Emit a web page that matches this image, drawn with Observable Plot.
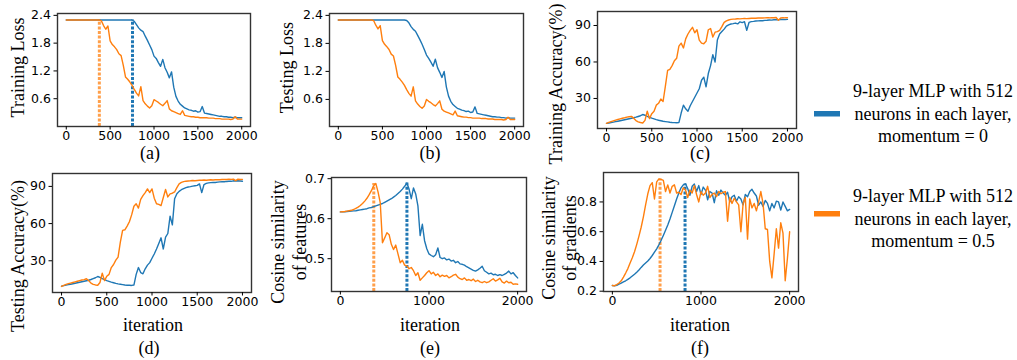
<!DOCTYPE html>
<html>
<head>
<meta charset="utf-8">
<script src="https://cdn.jsdelivr.net/npm/d3@7"></script>
<script src="https://cdn.jsdelivr.net/npm/@observablehq/plot@0.6"></script>
<style>
  html, body { margin: 0; padding: 0; background: #fff; }
  #fig { position: relative; width: 1017px; height: 360px; overflow: hidden; background: #fff; }
  .panel { position: absolute; }
  #overlay { position: absolute; left: 0; top: 0; pointer-events: none; }
</style>
</head>
<body>
<div id="fig"></div>
<script>
// ---------------- data ----------------
const iterations = d3.range(0, 2001, 25); // 0, 25, ..., 2000 (81 points)

const seriesNames = [
  ["9-layer MLP with 512", "neurons in each layer,", "momentum = 0"],
  ["9-layer MLP with 512", "neurons in each layer,", "momentum = 0.5"]
];

const xTicksFine = [0, 500, 1000, 1500, 2000];
const xTicksCoarse = [0, 1000, 2000];
const lossTicks = [0.6, 1.2, 1.8, 2.4];
const accTicks = [30, 60, 90];
const featTicks = [0.5, 0.6, 0.7];
const gradTicks = [0.2, 0.4, 0.6, 0.8];

// (a) training loss
const trainLossM0 = [
  2.30,2.30,2.30,2.30,2.30,2.30,2.30,2.30,2.30,2.30,
  2.30,2.30,2.30,2.30,2.30,2.30,2.30,2.30,2.30,2.30,
  2.30,2.30,2.30,2.30,2.30,2.30,2.30,2.30,2.30,2.30,
  2.30,
  2.27,2.20,2.13,2.08,2.05,1.95,1.86,1.76,1.66,1.52,
  1.47,1.38,1.30,1.45,1.27,1.17,1.05,1.18,0.85,0.65,
  0.55,0.48,0.44,0.40,0.38,0.36,0.35,0.33,0.34,0.31,
  0.32,0.43,0.29,0.28,0.27,0.26,0.25,0.24,0.23,0.22,
  0.22,0.21,0.21,0.20,0.20,0.19,0.20,0.19,0.19,0.19
];
const trainLossM05 = [
  2.30,2.30,2.30,2.30,2.30,2.30,2.30,2.30,2.30,2.30,
  2.30,2.30,2.30,2.30,2.30,2.30,
  2.28,2.18,2.10,2.17,1.85,1.77,1.72,1.66,1.57,1.53,
  1.32,1.07,1.02,0.96,0.89,0.80,0.72,0.66,0.86,0.56,
  0.49,0.44,0.40,0.45,0.58,0.55,0.52,0.48,0.45,0.50,
  0.56,0.38,0.34,0.32,0.30,0.28,0.26,0.34,0.24,0.23,
  0.22,0.21,0.21,0.20,0.20,0.19,0.19,0.19,0.19,0.18,
  0.18,0.18,0.17,0.17,0.17,0.16,0.16,0.16,0.16,0.15,
  0.16,0.21,0.16,0.16,0.16
];

// (b) testing loss
const testLossM0 = [
  2.30,2.30,2.30,2.30,2.30,2.30,2.30,2.30,2.30,2.30,
  2.30,2.30,2.30,2.30,2.30,2.30,2.30,2.30,2.30,2.30,
  2.30,2.30,2.30,2.30,2.30,2.30,2.30,2.30,2.30,2.30,
  2.30,
  2.29,2.24,2.16,2.10,2.06,1.97,1.88,1.78,1.67,1.55,
  1.48,1.40,1.31,1.46,1.28,1.18,1.07,1.20,0.87,0.67,
  0.56,0.49,0.45,0.41,0.39,0.37,0.36,0.34,0.35,0.32,
  0.33,0.44,0.30,0.29,0.28,0.27,0.26,0.25,0.24,0.23,
  0.23,0.22,0.22,0.21,0.21,0.20,0.21,0.20,0.20,0.20
];
const testLossM05 = [
  2.30,2.30,2.30,2.30,2.30,2.30,2.30,2.30,2.30,2.30,
  2.30,2.30,2.30,2.30,2.30,2.30,
  2.29,2.19,2.11,2.18,1.86,1.78,1.73,1.67,1.57,1.53,
  1.33,1.08,1.03,0.97,0.90,0.81,0.73,0.67,0.87,0.57,
  0.50,0.45,0.41,0.46,0.60,0.56,0.53,0.49,0.46,0.51,
  0.57,0.39,0.35,0.33,0.31,0.29,0.27,0.35,0.25,0.24,
  0.23,0.22,0.22,0.21,0.21,0.20,0.20,0.20,0.20,0.19,
  0.19,0.19,0.18,0.18,0.18,0.17,0.17,0.17,0.17,0.16,
  0.17,0.22,0.17,0.17,0.17
];

// (c) training accuracy (%)
const trainAccM0 = [
  9.5,9.8,10.2,10.5,10.9,11.3,11.7,12.1,12.5,12.9,
  13.3,13.7,14.1,14.6,15.2,15.8,16.8,16.2,15.3,14.5,
  13.8,13.2,12.6,12.1,11.7,11.3,11.0,10.7,10.4,10.2,
  10.1,10.0,10.2,18.0,24.5,21.5,19.5,24.0,27.5,31.0,
  34.5,38.0,45.0,47.5,39.5,50.5,57.0,66.0,60.0,78.0,
  83.0,85.0,87.0,89.5,90.5,91.2,91.5,92.0,91.3,93.0,
  92.4,93.1,86.0,92.5,93.2,93.4,93.7,93.8,94.0,93.9,
  94.2,94.3,94.5,94.4,94.7,94.8,94.7,94.9,95.0,94.8,
  95.0
];
const trainAccM05 = [
  9.5,10.3,11.0,11.6,12.2,12.7,13.2,13.7,14.1,14.6,
  15.0,15.3,13.8,11.8,10.8,10.2,9.8,12.0,19.5,13.5,
  17.5,19.5,24.5,26.0,29.5,27.5,40.0,53.0,54.0,57.0,
  61.0,63.0,73.0,75.5,71.5,79.0,83.0,86.0,88.5,84.0,
  86.5,78.0,75.5,75.0,77.0,86.5,87.5,80.5,84.5,85.0,
  86.0,89.0,92.5,93.8,94.5,95.0,95.2,95.3,95.5,95.4,
  95.6,95.7,95.6,95.8,95.9,96.0,95.9,96.1,96.2,96.1,
  96.3,96.4,96.3,96.5,96.4,96.6,94.3,96.2,96.5,96.3,
  96.4
];

// (d) testing accuracy (%)
const testAccM0 = [
  9.5,9.9,10.3,10.7,11.1,11.5,11.9,12.3,12.7,13.1,
  13.5,13.9,14.3,14.9,15.6,16.3,17.3,16.6,15.6,14.8,
  14.0,13.4,12.8,12.3,11.8,11.4,11.1,10.8,10.5,10.3,
  10.2,10.1,10.4,19.0,24.5,20.5,19.5,23.5,26.5,28.5,
  32.0,35.5,39.5,44.0,48.5,39.5,49.0,52.0,66.0,59.0,
  80.0,84.0,86.0,87.3,88.2,89.0,89.5,89.8,90.2,90.5,
  90.8,92.0,85.0,91.5,92.4,92.8,93.0,93.2,93.1,93.4,
  93.6,93.8,93.7,94.0,94.2,94.1,94.5,94.3,94.6,94.4,
  94.2
];
const testAccM05 = [
  9.3,10.2,10.9,11.5,12.0,12.5,13.0,13.5,14.0,14.5,
  14.8,15.5,14.0,12.0,11.0,10.5,10.2,12.5,20.0,14.0,
  17.5,19.0,24.5,27.0,30.5,33.0,45.0,54.5,55.0,58.0,
  61.5,67.0,74.0,76.0,72.5,79.5,82.5,85.0,88.0,85.0,
  88.0,80.5,76.0,75.5,74.5,81.0,87.5,81.5,84.0,84.5,
  85.5,89.0,92.0,93.2,93.8,94.2,94.4,94.5,94.7,94.6,
  94.8,94.9,95.0,95.1,95.0,95.2,95.3,95.2,95.4,95.5,
  95.4,95.6,95.7,95.6,95.8,95.7,95.9,94.6,95.8,95.6,
  95.7
];

// (e) cosine similarity of features
const featCosM0 = [
  0.617,0.617,0.6175,0.618,0.6185,0.619,0.6195,0.620,0.621,0.622,
  0.623,0.624,0.625,0.627,0.628,0.630,0.632,0.634,0.636,0.638,
  0.641,0.644,0.647,0.650,0.654,0.658,0.663,0.668,0.674,0.681,
  0.689,0.674,0.650,0.677,0.662,0.632,0.558,0.586,0.545,0.525,
  0.512,0.508,0.505,0.510,0.527,0.503,0.500,0.502,0.497,0.499,
  0.494,0.496,0.490,0.493,0.487,0.486,0.484,0.480,0.477,0.474,
  0.471,0.469,0.472,0.476,0.481,0.470,0.466,0.462,0.464,0.460,
  0.461,0.458,0.460,0.458,0.461,0.464,0.469,0.462,0.465,0.458,
  0.452
];
const featCosM05 = [
  0.617,0.6175,0.618,0.619,0.620,0.621,0.623,0.626,0.629,0.633,
  0.638,0.644,0.651,0.660,0.670,0.682,0.688,0.667,0.640,0.540,
  0.552,0.565,0.560,0.536,0.523,0.534,0.512,0.490,0.496,0.484,
  0.482,0.475,0.478,0.470,0.458,0.465,0.446,0.452,0.458,0.465,
  0.470,0.462,0.466,0.458,0.462,0.455,0.459,0.456,0.458,0.452,
  0.455,0.459,0.461,0.454,0.450,0.448,0.452,0.446,0.448,0.445,
  0.449,0.443,0.446,0.442,0.440,0.443,0.440,0.442,0.446,0.450,
  0.444,0.447,0.451,0.442,0.439,0.444,0.440,0.441,0.436,0.437,
  0.436
];

// (f) cosine similarity of gradients
const gradCosM0 = [
  0.238,0.236,0.240,0.247,0.254,0.262,0.270,0.280,0.290,0.302,
  0.314,0.328,0.343,0.360,0.376,0.390,0.403,0.420,0.440,0.462,
  0.485,0.512,0.542,0.575,0.610,0.645,0.685,0.730,0.775,0.820,
  0.860,0.895,0.915,0.922,0.890,0.845,0.905,0.920,0.870,0.910,
  0.850,0.900,0.880,0.815,0.870,0.860,0.795,0.875,0.845,0.880,
  0.860,0.845,0.865,0.800,0.835,0.845,0.805,0.835,0.820,0.780,
  0.850,0.835,0.870,0.885,0.860,0.840,0.778,0.800,0.770,0.810,
  0.790,0.740,0.790,0.760,0.805,0.800,0.745,0.800,0.770,0.740,
  0.750
];
const gradCosM05 = [
  0.238,0.237,0.245,0.255,0.270,0.295,0.322,0.352,0.390,0.425,
  0.465,0.515,0.570,0.630,0.700,0.780,0.855,0.910,0.930,0.820,
  0.935,0.955,0.952,0.945,0.870,0.915,0.860,0.905,0.915,0.860,
  0.865,0.850,0.895,0.880,0.830,0.880,0.860,0.910,0.850,0.800,
  0.870,0.845,0.860,0.905,0.830,0.850,0.860,0.835,0.870,0.855,
  0.865,0.870,0.670,0.830,0.790,0.825,0.800,0.780,0.600,0.790,
  0.830,0.550,0.820,0.760,0.790,0.740,0.800,0.870,0.790,0.620,
  0.615,0.400,0.290,0.450,0.620,0.490,0.660,0.590,0.270,0.420,
  0.600
];

// turning points (iteration, curve value) marked with dotted lines
const lossTurns = [{series: 0, iter: 755, top: 2.30}, {series: 1, iter: 377, top: 2.30}];
const featTurns = [{series: 0, iter: 751, top: 0.689}, {series: 1, iter: 377, top: 0.688}];
const gradTurns = [{series: 0, iter: 820, top: 0.921}, {series: 1, iter: 538, top: 0.955}];

// ---------------- drawing ----------------
const colors = ["#1f77b4", "#ff7f0e"];
const xDomain = [-100, 2100];
const fig = document.getElementById("fig");
const rows = (vals) => iterations.map((it, i) => ({iter: it, value: vals[i]}));

const panels = [
  {box: [0, 0, 265, 170], frame: [57, 13, 250, 126], ydomain: [0.0, 2.44], yticks: lossTicks, xticks: xTicksFine,
   fmt: d => d.toFixed(1), data: [trainLossM0, trainLossM05], turns: lossTurns},
  {box: [265, 0, 270, 170], frame: [329, 13, 523, 126], ydomain: [0.02, 2.44], yticks: lossTicks, xticks: xTicksFine,
   fmt: d => d.toFixed(1), data: [testLossM0, testLossM05], turns: null},
  {box: [535, 0, 275, 170], frame: [597, 11, 796, 128], ydomain: [5.3, 101.5], yticks: accTicks, xticks: xTicksFine,
   fmt: d => String(d), data: [trainAccM0, trainAccM05], turns: null},
  {box: [0, 160, 265, 170], frame: [52, 173, 251, 292], ydomain: [4.4, 100.4], yticks: accTicks, xticks: xTicksFine,
   fmt: d => String(d), data: [testAccM0, testAccM05], turns: null},
  {box: [265, 160, 270, 170], frame: [331, 177, 526, 291], ydomain: [0.418, 0.703], yticks: featTicks, xticks: xTicksCoarse,
   fmt: d => d.toFixed(1), data: [featCosM0, featCosM05], turns: featTurns},
  {box: [535, 160, 275, 170], frame: [603, 172, 798, 291], ydomain: [0.198, 0.998], yticks: gradTicks, xticks: xTicksCoarse,
   fmt: d => d.toFixed(1), data: [gradCosM0, gradCosM05], turns: gradTurns}
];

for (const p of panels) {
  const [bl, bt, bw, bh] = p.box;
  const [fl, ft, fr, fb] = p.frame;
  const marks = [];
  if (p.turns) {
    for (const s of [0, 1]) {
      marks.push(Plot.ruleX(p.turns.filter(d => d.series === s), {
        x: "iter", y1: p.ydomain[0], y2: "top",
        stroke: colors[s], strokeOpacity: s === 1 ? 0.75 : 1,
        strokeWidth: 3, strokeDasharray: "3,1.6"
      }));
    }
  }
  marks.push(Plot.line(rows(p.data[0]), {x: "iter", y: "value", stroke: colors[0], strokeWidth: 1.4}));
  marks.push(Plot.line(rows(p.data[1]), {x: "iter", y: "value", stroke: colors[1], strokeWidth: 1.4}));
  marks.push(Plot.frame({stroke: "#333", strokeWidth: 1.4}));
  marks.push(Plot.axisX({ticks: p.xticks, tickSize: 3.5, tickPadding: 1, label: null, tickFormat: d => String(d)}));
  marks.push(Plot.axisY({ticks: p.yticks, tickSize: 3.5, tickPadding: 3, label: null, tickFormat: p.fmt}));
  const chart = Plot.plot({
    width: bw, height: bh,
    marginLeft: fl - bl, marginRight: bl + bw - fr, marginTop: ft - bt, marginBottom: bt + bh - fb,
    x: {domain: xDomain},
    y: {domain: p.ydomain},
    style: {fontFamily: "DejaVu Sans", fontSize: "12.5px", color: "#000", background: "transparent", overflow: "visible"},
    marks
  });
  chart.classList.add("panel");
  chart.style.left = bl + "px";
  chart.style.top = bt + "px";
  fig.appendChild(chart);
}

// ---------------- text overlay: axis titles, panel letters, legend ----------------
const svg = d3.select(fig).append("svg").attr("id", "overlay")
  .attr("width", 1017).attr("height", 360)
  .style("font-family", "'Liberation Serif', 'Times New Roman', serif").style("fill", "#000");

const yTitles = [
  {lines: ["Training Loss"], x: 18, y: 67.5},
  {lines: ["Testing Loss"], x: 287, y: 67.5},
  {lines: ["Training Accuracy(%)"], x: 556, y: 84},
  {lines: ["Testing Accuracy(%)"], x: 17.5, y: 256},
  {lines: ["Cosine similarity", "of features"], x: 288.5, y: 242},
  {lines: ["Cosine similarity", "of gradients"], x: 559, y: 238}
];
for (const t of yTitles) {
  const n = t.lines.length;
  t.lines.forEach((line, i) => {
    const cx = t.x + (i - (n - 1) / 2) * 21.5;
    svg.append("text")
      .attr("transform", `translate(${cx},${t.y}) rotate(-90)`)
      .attr("text-anchor", "middle").attr("dy", "0.35em")
      .style("font-size", "18px")
      .text(line);
  });
}
const xTitles = [{x: 153, y: 331}, {x: 430, y: 331}, {x: 700, y: 331}];
for (const t of xTitles) {
  svg.append("text").attr("x", t.x).attr("y", t.y).attr("text-anchor", "middle")
    .style("font-size", "18px").text("iteration");
}
const letters = [
  {s: "(a)", x: 150, y: 159}, {s: "(b)", x: 430, y: 159}, {s: "(c)", x: 700, y: 159},
  {s: "(d)", x: 149, y: 354}, {s: "(e)", x: 430, y: 354}, {s: "(f)", x: 700, y: 354}
];
for (const t of letters) {
  svg.append("text").attr("x", t.x).attr("y", t.y).attr("text-anchor", "middle")
    .style("font-size", "18px").text(t.s);
}
// legend
const legendRows = [{y0: 97, sw: 111}, {y0: 202, sw: 211}];
legendRows.forEach((r, s) => {
  svg.append("rect").attr("x", 814).attr("y", r.sw).attr("width", 26).attr("height", 5.5).attr("fill", colors[s]);
  seriesNames[s].forEach((line, i) => {
    svg.append("text").attr("x", 933).attr("y", r.y0 + i * 22.5).attr("text-anchor", "middle")
      .style("font-size", "18px").text(line);
  });
});
</script>
</body>
</html>
